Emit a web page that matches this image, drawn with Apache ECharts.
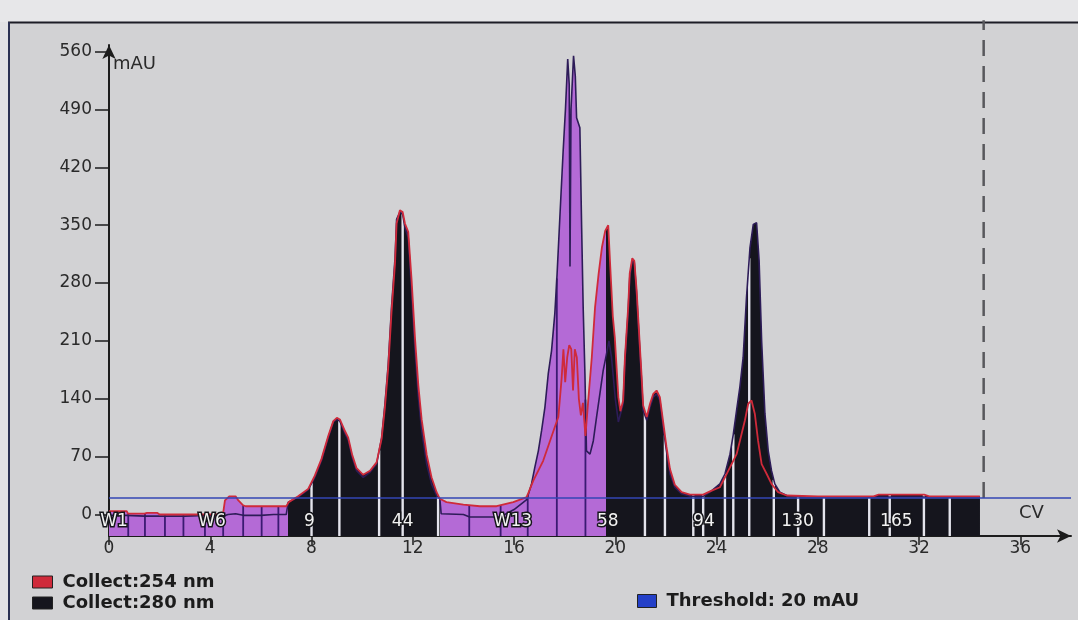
<!DOCTYPE html>
<html>
<head>
<meta charset="utf-8">
<script src="https://cdn.jsdelivr.net/npm/echarts@6/dist/echarts.min.js"></script>
<style>
  html, body { margin: 0; padding: 0; background: #d2d2d4; }
  #chart { width: 1078px; height: 620px; }
</style>
</head>
<body>
<div id="chart"></div>
<script>
// UV trace at 254 nm: [CV, mAU]
const trace254 = [
  [0, 4], [0.7, 4], [0.75, 1], [1.4, 1], [1.5, 2], [1.9, 2], [2.0, 0], [4.5, 0],
  [4.58, 17], [4.75, 22], [5.0, 22], [5.11, 17], [5.3, 11], [5.4, 10], [7.0, 10],
  [7.1, 15], [7.47, 22], [7.87, 31], [8.13, 47], [8.39, 67], [8.66, 95], [8.86, 113],
  [9.0, 117], [9.12, 115], [9.32, 101], [9.45, 93], [9.6, 73], [9.78, 56], [10.04, 48],
  [10.31, 53], [10.57, 63], [10.77, 92], [10.9, 130], [11.03, 178], [11.16, 245],
  [11.3, 305], [11.36, 352], [11.49, 368], [11.6, 366], [11.69, 352], [11.82, 342],
  [11.95, 285], [12.09, 212], [12.22, 156], [12.35, 115], [12.55, 72], [12.74, 45],
  [12.94, 27], [13.07, 19], [13.33, 15], [14.0, 12], [14.65, 10], [15.31, 10],
  [15.97, 15], [16.5, 21], [16.76, 41], [17.15, 65], [17.42, 89], [17.6, 105],
  [17.75, 118], [17.88, 165], [17.95, 200], [18.02, 160], [18.1, 190], [18.18, 205],
  [18.26, 200], [18.33, 150], [18.4, 200], [18.48, 190], [18.56, 140], [18.64, 120],
  [18.72, 135], [18.82, 95], [18.93, 138], [19.07, 190], [19.2, 251], [19.34, 291],
  [19.47, 323], [19.6, 343], [19.72, 350], [19.8, 300], [19.9, 240], [19.98, 214],
  [20.12, 142], [20.2, 125], [20.31, 138], [20.38, 190], [20.51, 252], [20.57, 292],
  [20.67, 310], [20.75, 307], [20.84, 272], [20.9, 240], [21.03, 172], [21.1, 132],
  [21.24, 118], [21.37, 134], [21.5, 146], [21.63, 150], [21.76, 142], [21.89, 112],
  [22.02, 82], [22.16, 55], [22.35, 36], [22.62, 27], [22.95, 24], [23.47, 24],
  [23.74, 28], [24.13, 33], [24.53, 57], [24.79, 73], [24.92, 89], [25.12, 114],
  [25.25, 134], [25.38, 138], [25.51, 122], [25.64, 89], [25.78, 61], [25.98, 49],
  [26.17, 37], [26.43, 27], [26.77, 23], [28.0, 22], [30.2, 22], [30.4, 24],
  [32.2, 24], [32.4, 22], [34.4, 22]
];

// UV trace at 280 nm: [CV, mAU]
const trace280 = [
  [0, -1], [0.7, -1], [1.4, -2], [2.2, -2], [3.0, -2], [3.8, -1], [4.5, -2], [4.7, 0],
  [5.0, 1], [5.3, -1], [6.0, -1], [6.5, 0], [7.0, 0], [7.08, 15], [7.47, 21], [7.87, 30],
  [8.13, 45], [8.39, 65], [8.66, 93], [8.86, 112], [9.0, 115], [9.12, 113], [9.32, 98],
  [9.45, 90], [9.6, 70], [9.78, 53], [10.04, 45], [10.31, 51], [10.57, 61], [10.77, 93],
  [10.9, 134], [11.03, 182], [11.16, 251], [11.3, 311], [11.36, 357], [11.49, 366],
  [11.6, 363], [11.69, 347], [11.82, 335], [11.95, 271], [12.09, 198], [12.22, 142],
  [12.35, 102], [12.55, 61], [12.74, 37], [12.94, 23], [13.07, 19], [13.12, 1],
  [14.0, 0], [14.25, -3], [15.45, -3], [16.0, 6], [16.5, 18], [16.69, 37], [16.82, 57],
  [16.96, 77], [17.09, 102], [17.22, 130], [17.35, 170], [17.48, 198], [17.61, 243],
  [17.7, 291], [17.81, 360], [17.94, 440], [18.03, 490], [18.12, 551], [18.18, 520],
  [18.21, 300], [18.25, 490], [18.35, 555], [18.42, 530], [18.47, 480], [18.6, 468],
  [18.67, 347], [18.73, 251], [18.8, 170], [18.86, 77], [19.0, 73], [19.13, 89],
  [19.26, 118], [19.39, 146], [19.52, 174], [19.65, 194], [19.75, 210], [19.85, 190],
  [20.0, 140], [20.12, 112], [20.18, 112], [20.31, 134], [20.38, 186], [20.51, 247],
  [20.57, 287], [20.67, 307], [20.75, 305], [20.84, 267], [20.9, 235], [21.03, 166],
  [21.1, 126], [21.24, 114], [21.37, 130], [21.5, 142], [21.63, 146], [21.76, 138],
  [21.89, 106], [22.02, 77], [22.16, 49], [22.35, 33], [22.62, 25], [22.95, 22],
  [23.47, 22], [23.74, 27], [24.13, 37], [24.33, 49], [24.53, 73], [24.66, 97],
  [24.79, 126], [24.92, 154], [25.05, 190], [25.18, 262], [25.32, 323], [25.45, 351],
  [25.58, 353], [25.68, 307], [25.78, 210], [25.91, 122], [26.04, 77], [26.17, 53],
  [26.3, 37], [26.5, 27], [26.77, 23], [27.5, 21], [30.0, 21], [32.0, 21], [34.4, 21]
];

// Fraction boundaries (CV) and the fraction labels shown in the tube band
const fractionCuts = [
  0.76, 1.42, 2.21, 2.94, 3.79, 4.51, 5.3, 6.03, 6.69,
  8.0, 9.1, 10.67, 11.6, 13.0,
  14.23, 15.47, 16.54, 17.69, 18.82,
  21.17, 21.96, 23.08, 23.47, 24.33, 24.66, 25.29, 26.26, 27.22, 28.24,
  30.03, 30.84, 32.19, 33.21
];
const fractionNames = ['W1', 'W6', '9', '44', 'W13', '58', '94', '130', '165'];
const fractionNameCv = [0.2, 4.07, 7.92, 11.6, 15.95, 19.7, 23.5, 27.2, 31.1];

// CV ranges sent to waste
const wasteRanges = [[0, 7.08], [13.07, 19.65]];

const thresholdMAU = 20;
const runEndCv = 34.55;
const yTicks = [0, 70, 140, 210, 280, 350, 420, 490, 560];
const xTicks = [0, 4, 8, 12, 16, 20, 24, 28, 32, 36];

const Y_MIN = -26, Y_MAX = 568, X_MIN = 0, X_MAX = 38;
const WASTE = '#b46ad6', COLLECT = '#15151d';
const RED = '#cf2a3a', BLUE = '#3346b4';
const FONT = 'DejaVu Sans';

function valueAt(trace, x) {
  if (x < trace[0][0] || x > trace[trace.length - 1][0]) return null;
  for (let i = 1; i < trace.length; i++) {
    const a = trace[i - 1], b = trace[i];
    if (x <= b[0]) {
      const t = b[0] === a[0] ? 0 : (x - a[0]) / (b[0] - a[0]);
      return a[1] + t * (b[1] - a[1]);
    }
  }
  return null;
}
function isWaste(x) {
  return wasteRanges.some(r => x >= r[0] && x < r[1]);
}

// Band colouring along CV: waste sections purple, collected sections dark
const pieces = [];
let cursor = X_MIN;
wasteRanges.forEach(r => {
  if (r[0] > cursor) pieces.push({ gte: cursor, lt: r[0], color: COLLECT });
  pieces.push({ gte: r[0], lt: r[1], color: WASTE });
  cursor = r[1];
});
pieces.push({ gte: cursor, lte: X_MAX + 1, color: COLLECT });
pieces[0].gte = X_MIN - 1;

const cutRows = fractionCuts.map(x => [
  x,
  Math.max(valueAt(trace254, x) ?? Y_MIN, valueAt(trace280, x) ?? Y_MIN),
  isWaste(x) ? 1 : 0
]);
const nameRows = fractionNames.map((n, i) => [fractionNameCv[i], -9, n]);

const legendText = { fontFamily: FONT, fontWeight: 'bold', fontSize: 18, color: '#1c1c1c', padding: [0, 0, 0, 5] };

const chart = echarts.init(document.getElementById('chart'));
chart.setOption({
  backgroundColor: '#d2d2d4',
  animation: false,
  graphic: [
    { type: 'rect', shape: { x: 0, y: 0, width: 1078, height: 22 }, style: { fill: '#e7e7e9' }, silent: true },
    { type: 'rect', shape: { x: 0, y: 22, width: 8, height: 598 }, style: { fill: '#e2e2e4' }, silent: true },
    { type: 'line', shape: { x1: 8, y1: 22.5, x2: 1078, y2: 22.5 }, style: { stroke: '#1d1d26', lineWidth: 2 }, silent: true },
    { type: 'line', shape: { x1: 9, y1: 22, x2: 9, y2: 620 }, style: { stroke: '#2b3152', lineWidth: 2 }, silent: true }
  ],
  grid: { left: 109, right: 7, top: 45, bottom: 84, containLabel: false },
  legend: [
    {
      left: 27, top: 568, height: 52, orient: 'vertical', icon: 'rect',
      itemWidth: 20, itemHeight: 12, itemGap: 3,
      itemStyle: { borderColor: '#222', borderWidth: 1 },
      textStyle: legendText,
      data: [
        { name: 'Collect:254 nm', itemStyle: { color: RED } },
        { name: 'Collect:280 nm', itemStyle: { color: COLLECT } }
      ]
    },
    {
      left: 632, top: 587, icon: 'rect',
      itemWidth: 19, itemHeight: 13,
      itemStyle: { borderColor: '#222', borderWidth: 1 },
      textStyle: legendText,
      data: [{ name: 'Threshold: 20 mAU', itemStyle: { color: '#2440c8' } }]
    }
  ],
  visualMap: {
    show: false, type: 'piecewise', dimension: 0, seriesIndex: [0, 1], pieces: pieces
  },
  xAxis: {
    type: 'value', min: X_MIN, max: X_MAX,
    name: 'CV', nameLocation: 'end', nameGap: -52,
    nameTextStyle: { fontFamily: FONT, fontSize: 18, color: '#2a2a2a', align: 'left', verticalAlign: 'bottom', padding: [0, 0, 14, 0] },
    axisLine: { onZero: false, lineStyle: { color: '#1c1c1c', width: 2 }, symbol: ['none', 'arrow'], symbolSize: [10, 14] },
    axisTick: { length: 9, lineStyle: { color: '#1c1c1c', width: 1.5 }, customValues: xTicks },
    axisLabel: { margin: 4, fontFamily: FONT, fontSize: 17, color: '#2a2a2a', customValues: xTicks },
    splitLine: { show: false }
  },
  yAxis: {
    type: 'value', min: Y_MIN, max: Y_MAX,
    name: 'mAU', nameLocation: 'end', nameGap: -10,
    nameTextStyle: { fontFamily: FONT, fontSize: 18, color: '#2a2a2a', align: 'left', verticalAlign: 'top', padding: [0, 0, 0, 4] },
    axisLine: { onZero: false, lineStyle: { color: '#1c1c1c', width: 2 }, symbol: ['none', 'arrow'], symbolSize: [10, 14] },
    axisTick: { length: 14, lineStyle: { color: '#1c1c1c', width: 1.5 }, customValues: yTicks },
    axisLabel: { margin: 17, fontFamily: FONT, fontSize: 17, color: '#2a2a2a', customValues: yTicks },
    splitLine: { show: false }
  },
  series: [
    {
      name: 'area254', type: 'line', data: trace254, symbol: 'none', silent: true, z: 1,
      lineStyle: { width: 0 }, areaStyle: { opacity: 1, origin: 'start' }
    },
    {
      name: 'area280', type: 'line', data: trace280, symbol: 'none', silent: true, z: 1,
      lineStyle: { width: 0 }, areaStyle: { opacity: 1, origin: 'start' }
    },
    {
      name: 'fractions', type: 'custom', data: cutRows, silent: true, z: 3,
      renderItem: function (params, api) {
        const x = api.value(0);
        const p0 = api.coord([x, Y_MIN]);
        const p1 = api.coord([x, api.value(1)]);
        const waste = api.value(2) === 1;
        return {
          type: 'line',
          shape: { x1: p0[0], y1: p0[1], x2: p1[0], y2: p1[1] },
          style: { stroke: waste ? '#3b1a72' : '#e4e4ec', lineWidth: waste ? 1.8 : 2.4 }
        };
      }
    },
    {
      name: 'Collect:280 nm', type: 'line', data: trace280, symbol: 'none', z: 4,
      color: COLLECT, lineStyle: { color: '#2d1c58', width: 1.6 }
    },
    {
      name: 'Collect:254 nm', type: 'line', data: trace254, symbol: 'none', z: 5,
      color: RED, lineStyle: { color: RED, width: 1.8 }
    },
    {
      name: 'Threshold: 20 mAU', type: 'line', data: [[X_MIN, thresholdMAU], [X_MAX, thresholdMAU]],
      symbol: 'none', z: 6, color: BLUE, lineStyle: { color: BLUE, width: 1.5 }
    },
    {
      name: 'runEnd', type: 'custom', data: [[runEndCv, thresholdMAU]], silent: true, z: 6, clip: false,
      renderItem: function (params, api) {
        const p0 = api.coord([api.value(0), api.value(1)]);
        const p1 = api.coord([api.value(0), Y_MAX + 30]);
        return {
          type: 'line',
          shape: { x1: p0[0], y1: p0[1], x2: p1[0], y2: p1[1] },
          style: { stroke: '#58585c', lineWidth: 2.5, lineDash: [16, 10] }
        };
      }
    },
    {
      name: 'tubes', type: 'custom', data: nameRows, silent: true, z: 7,
      renderItem: function (params, api) {
        const p = api.coord([api.value(0), api.value(1)]);
        return {
          type: 'text', x: p[0], y: p[1],
          style: {
            text: nameRows[params.dataIndex][2],
            fill: '#f2f2f2', stroke: '#15151a', lineWidth: 3,
            font: '17px "DejaVu Sans"', align: 'center', verticalAlign: 'middle'
          }
        };
      }
    }
  ]
});
</script>
</body>
</html>
